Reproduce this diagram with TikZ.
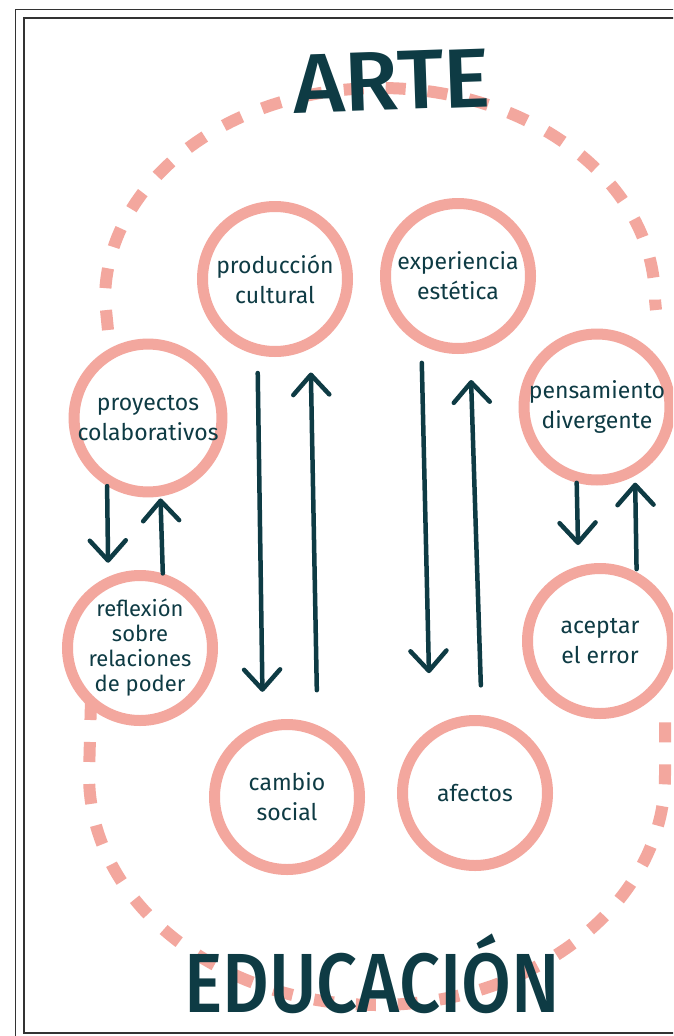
\documentclass[tikz,border=0pt]{standalone}
\usepackage{fontspec}
\setmainfont{Fira Sans}
\newfontfamily\rotulo{Fira Sans Medium}
\usetikzlibrary{arrows.meta}

\definecolor{rosa}{HTML}{F3A79E}
\definecolor{tinta}{HTML}{0E3B44}

\tikzset{
  idea/.style={circle, draw=rosa, fill=white, line width=11pt, minimum size=145pt,
    inner sep=0pt, align=center, text=tinta, font=\fontsize{23}{30}\selectfont},
  flecha/.style={draw=tinta, line width=4.5pt, line cap=round,
    -{Straight Barb[length=20pt,width=36pt,round]}},
  borde/.style={draw=rosa, line width=12pt, dash pattern=on 20pt off 22pt},
  marco/.style={draw=black!80, line width=1.2pt},
  titulo/.style={text=tinta, anchor=base, font=\rotulo\fontsize{84}{84}\selectfont}
}

\begin{document}
\begin{tikzpicture}[x=1pt,y=-1pt]

  % Page and frame
  \useasboundingbox (0,0) rectangle (673,1036);
  \fill[white] (0,0) rectangle (673,1036);
  \clip (0,0) rectangle (673,1036);
  \draw[marco] (700,9.5) -- (15.5,9.5) -- (15.5,1060);
  \draw[marco] (700,18) -- (24,18) -- (24,1033) -- (700,1033);

  % Dashed outline, upper and lower part
  \draw[borde] (108,330) -- (105,300)
    arc[start angle=180, end angle=360, x radius=275, y radius=212] -- (656,310);
  \draw[borde] (91,700) -- (89,775)
    arc[start angle=180, end angle=0, x radius=288, y radius=230] -- (665,720);

  % Circles
  \node[idea] (prod) at (275,279) {producción\\cultural};
  \node[idea] (exp) at (458,276) {experiencia\\estética};
  \node[idea] (proy) at (148,418) {proyectos\\colaborativos};
  \node[idea, font=\fontsize{22}{25}\selectfont] (refl) at (140,648)
    {reflexión\\sobre\\relaciones\\de poder};
  \node[idea] (pens) at (597,407) {pensamiento\\divergente};
  \node[idea] (acep) at (600,641) {aceptar\\el error};
  \node[idea] (camb) at (287,797) {cambio\\social};
  \node[idea] (afec) at (475,793) {afectos};

  % Long arrows
  \draw[flecha, shorten <=18pt, shorten >=31pt] (prod.257) -- (camb.108);
  \draw[flecha, shorten <=35pt, shorten >=24pt] (camb.67) -- (prod.297);
  \draw[flecha, shorten <=18pt, shorten >=56pt] (exp.242) -- (afec.125);
  \draw[flecha, shorten <=30pt, shorten >=27pt] (afec.85) -- (exp.279);

  % Short arrows
  \draw[flecha, shorten >=14pt] (proy.239) -- (refl.114);
  \draw[flecha, shorten >=2pt] (refl.73) -- (proy.279);
  \draw[flecha, shorten >=21pt] (pens.255) -- (acep.106);
  \draw[flecha, shorten <=3pt, shorten >=7pt] (acep.62) -- (pens.299);

  % Titles
  \node[titulo, rotate=2, xscale=1.05] (arte) at (393,110) {ARTE};
  \node[titulo, xscale=0.86] (educ) at (372,1012) {EDUCACIÓN};

\end{tikzpicture}
\end{document}
